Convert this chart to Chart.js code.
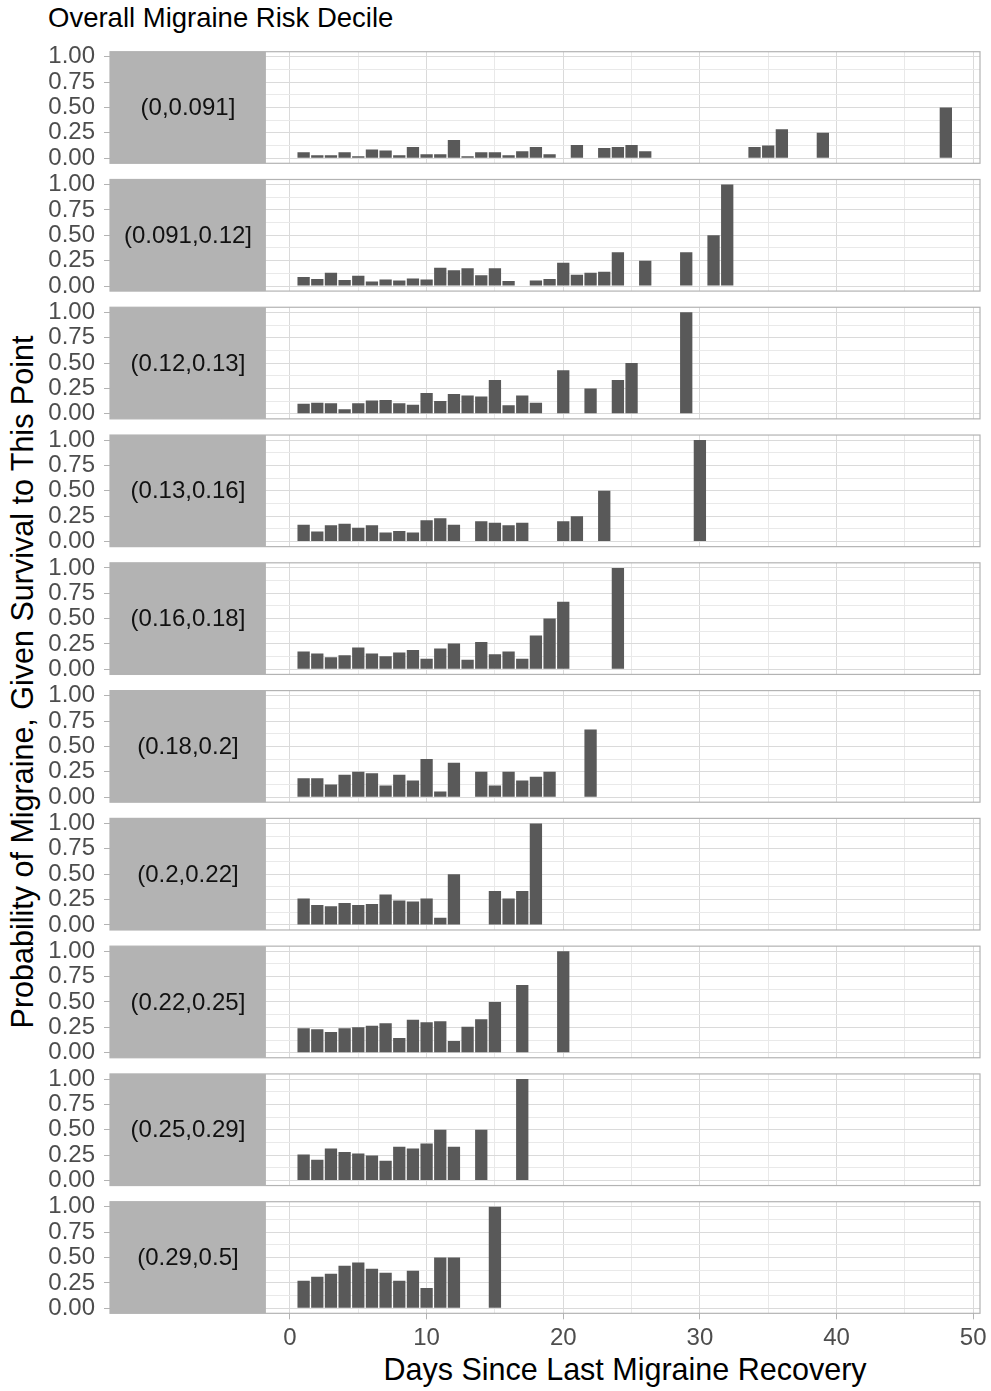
<!DOCTYPE html>
<html>
<head>
<meta charset="utf-8">
<script src="https://cdn.jsdelivr.net/npm/chart.js@4/dist/chart.umd.min.js"></script>
<style>
  html, body { margin: 0; padding: 0; background: #ffffff; }
  body { position: relative; width: 991px; height: 1391px; overflow: hidden;
         font-family: "Liberation Sans", Arial, sans-serif; }
  canvas.panel { position: absolute; left: 0; }
  .txt { position: absolute; white-space: nowrap; color: #000; line-height: 1; }
  #facetTitle { left: 48px; top: 4px; font-size: 27.5px; }
  #yTitle { left: 22px; top: 682px; font-size: 30.5px; transform: translate(-50%, -50%) rotate(-90deg); }
  #xTitle { left: 625px; top: 1369px; font-size: 30.5px; transform: translate(-50%, -50%); }
</style>
</head>
<body>
<div id="facetTitle" class="txt">Overall Migraine Risk Decile</div>
<div id="yTitle" class="txt">Probability of Migraine, Given Survival to This Point</div>
<div id="xTitle" class="txt">Days Since Last Migraine Recovery</div>
<script>
// Risk-decile facet labels
const decileLabels = ["(0,0.091]", "(0.091,0.12]", "(0.12,0.13]", "(0.13,0.16]", "(0.16,0.18]",
                      "(0.18,0.2]", "(0.2,0.22]", "(0.22,0.25]", "(0.25,0.29]", "(0.29,0.5]"];

// Days since recovery and conditional migraine probability, one pair per decile
const days1 = [1,2,3,4,5,6,7,8,9,10,11,12,13,14,15,16,17,18,19,21,23,24,25,26,34,35,36,39,48];
const prob1 = [0.06,0.03,0.03,0.06,0.02,0.085,0.075,0.03,0.11,0.04,0.04,0.18,0.02,0.06,0.06,0.03,0.07,0.11,0.04,
               0.13,0.10,0.11,0.13,0.07,0.11,0.125,0.286,0.25,0.5];

const days2 = [1,2,3,4,5,6,7,8,9,10,11,12,13,14,15,16,18,19,20,21,22,23,24,26,29,31,32];
const prob2 = [0.09,0.07,0.13,0.06,0.10,0.045,0.065,0.055,0.075,0.065,0.18,0.155,0.175,0.105,0.175,0.05,
               0.055,0.07,0.23,0.11,0.13,0.14,0.333,0.25,0.333,0.5,1.0];

const days3 = [1,2,3,4,5,6,7,8,9,10,11,12,13,14,15,16,17,18,20,22,24,25,29];
const prob3 = [0.10,0.11,0.105,0.045,0.105,0.13,0.135,0.105,0.09,0.205,0.125,0.195,0.18,0.17,0.333,0.085,0.18,0.11,
               0.43,0.25,0.333,0.5,1.0];

const days4 = [1,2,3,4,5,6,7,8,9,10,11,12,14,15,16,17,20,21,23,30];
const prob4 = [0.165,0.10,0.16,0.175,0.135,0.16,0.09,0.105,0.09,0.21,0.23,0.165,0.2,0.185,0.16,0.185,
               0.2,0.25,0.5,1.0];

const days5 = [1,2,3,4,5,6,7,8,9,10,11,12,13,14,15,16,17,18,19,20,24];
const prob5 = [0.175,0.155,0.12,0.14,0.215,0.155,0.13,0.165,0.19,0.105,0.205,0.255,0.095,0.27,0.15,0.175,0.105,
               0.333,0.5,0.667,1.0];

const days6 = [1,2,3,4,5,6,7,8,9,10,11,12,14,15,16,17,18,19,22];
const prob6 = [0.185,0.185,0.125,0.22,0.25,0.235,0.115,0.22,0.165,0.375,0.055,0.34,0.25,0.115,0.25,0.165,0.2,0.25,0.667];

const days7 = [1,2,3,4,5,6,7,8,9,10,11,12,15,16,17,18];
const prob7 = [0.26,0.195,0.185,0.215,0.195,0.205,0.3,0.24,0.23,0.26,0.07,0.5,0.333,0.26,0.333,1.0];

const days8 = [1,2,3,4,5,6,7,8,9,10,11,12,13,14,15,17,20];
const prob8 = [0.24,0.23,0.205,0.24,0.25,0.265,0.29,0.145,0.325,0.30,0.31,0.115,0.255,0.33,0.5,0.667,1.0];

const days9 = [1,2,3,4,5,6,7,8,9,10,11,12,14,17];
const prob9 = [0.255,0.205,0.315,0.28,0.265,0.245,0.195,0.333,0.315,0.365,0.5,0.333,0.5,1.0];

const days10 = [1,2,3,4,5,6,7,8,9,10,11,12,15];
const prob10 = [0.27,0.31,0.34,0.42,0.45,0.39,0.35,0.27,0.37,0.2,0.5,0.5,1.0];

// Axis breaks (major and minor)
const xBreaks = [-10,-5,0,5,10,15,20,25,30,35,40,45,50];
const yBreaks = [0,0.125,0.25,0.375,0.5,0.625,0.75,0.875,1];

const panelDays = [days1,days2,days3,days4,days5,days6,days7,days8,days9,days10];
const panelProbs = [prob1,prob2,prob3,prob4,prob5,prob6,prob7,prob8,prob9,prob10];

// Layout (px)
const FIRST_TOP = 51.7, STEP = 127.78, PANEL_H = 111.6, PAD_TOP = 14;
const CHART_LEFT = 110, CHART_RIGHT = 980, W = 991;
const FONT = '"Liberation Sans", Arial, sans-serif';
const STRIP_END = -1.76;
const GRID_MAJOR = '#dadada', GRID_MINOR = '#e9e9e9';

const isMajorX = v => v % 10 === 0;
const isMajorY = v => Math.abs((v * 4) - Math.round(v * 4)) < 1e-9;

// Labels may overhang the plot area; keep the plot area fixed
const noOverhang = s => { s.paddingTop = 0; s.paddingBottom = 0; s.paddingLeft = 0; s.paddingRight = 0; };

// Grey facet strip with its label, and the panel frame
const panelDecor = {
  id: 'panelDecor',
  beforeDatasetsDraw(chart, args, opts) {
    const { ctx, chartArea: a, scales: { x } } = chart;
    const right = x.getPixelForValue(opts.stripEnd);
    ctx.save();
    ctx.fillStyle = '#b3b3b3';
    ctx.fillRect(a.left, a.top, right - a.left, a.bottom - a.top);
    ctx.fillStyle = '#111111';
    ctx.font = '24px ' + FONT;
    ctx.textAlign = 'center';
    ctx.textBaseline = 'middle';
    ctx.fillText(opts.label, (a.left + right) / 2, (a.top + a.bottom) / 2 + 1);
    ctx.restore();
  },
  afterDraw(chart) {
    const { ctx, chartArea: a } = chart;
    ctx.save();
    ctx.strokeStyle = '#b3b3b3';
    ctx.lineWidth = 1.2;
    ctx.strokeRect(a.left, a.top, a.right - a.left, a.bottom - a.top);
    ctx.restore();
  }
};

decileLabels.forEach((label, i) => {
  const last = i === decileLabels.length - 1;
  const panelTop = FIRST_TOP + STEP * i;
  const canvasTop = Math.floor(panelTop) - PAD_TOP;
  const padTop = panelTop - canvasTop;
  const axisH = last ? 40 : 0;
  const H = Math.ceil(padTop + PANEL_H + axisH + 14);
  const padBottom = H - padTop - PANEL_H - axisH;

  const cv = document.createElement('canvas');
  cv.className = 'panel';
  cv.width = W; cv.height = H;
  cv.style.top = canvasTop + 'px';
  cv.style.width = W + 'px'; cv.style.height = H + 'px';
  document.body.appendChild(cv);

  const points = panelDays[i].map((d, k) => ({ x: d, y: panelProbs[i][k] }));

  new Chart(cv.getContext('2d'), {
    type: 'bar',
    data: {
      datasets: [{
        data: points,
        backgroundColor: '#595959',
        borderWidth: 0,
        categoryPercentage: 1.0,
        barPercentage: 0.9
      }]
    },
    options: {
      responsive: false,
      animation: false,
      devicePixelRatio: 1,
      layout: { padding: { left: 0, right: W - CHART_RIGHT, top: padTop, bottom: padBottom } },
      plugins: {
        legend: { display: false },
        tooltip: { enabled: false },
        panelDecor: { label: label, stripEnd: STRIP_END }
      },
      scales: {
        x: {
          type: 'linear',
          offset: false,
          min: -13.17,
          max: 50.5,
          afterBuildTicks: s => { s.ticks = xBreaks.map(v => ({ value: v })); },
          afterFit: s => { s.height = axisH; noOverhang(s); },
          border: { display: false },
          grid: {
            offset: false,
            drawTicks: last,
            tickLength: 6,
            tickWidth: 1,
            tickColor: c => (c.tick && c.tick.value >= 0 && isMajorX(c.tick.value)) ? '#b3b3b3' : 'rgba(0,0,0,0)',
            color: c => (c.tick && isMajorX(c.tick.value)) ? GRID_MAJOR : GRID_MINOR,
            lineWidth: 1
          },
          ticks: {
            display: last,
            autoSkip: false,
            maxRotation: 0,
            padding: 5,
            color: '#4d4d4d',
            font: { family: FONT, size: 24 },
            callback: v => (v >= 0 && isMajorX(v)) ? String(v) : ''
          }
        },
        y: {
          min: -0.05,
          max: 1.05,
          afterBuildTicks: s => { s.ticks = yBreaks.map(v => ({ value: v })); },
          afterFit: s => { s.width = CHART_LEFT; noOverhang(s); },
          border: { display: false },
          grid: {
            drawTicks: true,
            tickLength: 6,
            tickWidth: 1,
            tickColor: c => (c.tick && isMajorY(c.tick.value)) ? '#b3b3b3' : 'rgba(0,0,0,0)',
            color: c => (c.tick && isMajorY(c.tick.value)) ? GRID_MAJOR : GRID_MINOR,
            lineWidth: 1
          },
          ticks: {
            autoSkip: false,
            padding: 9,
            color: '#4d4d4d',
            font: { family: FONT, size: 24, lineHeight: 1.0 },
            callback: v => isMajorY(v) ? v.toFixed(2) : ''
          }
        }
      }
    },
    plugins: [panelDecor]
  });
});
</script>
</body>
</html>
